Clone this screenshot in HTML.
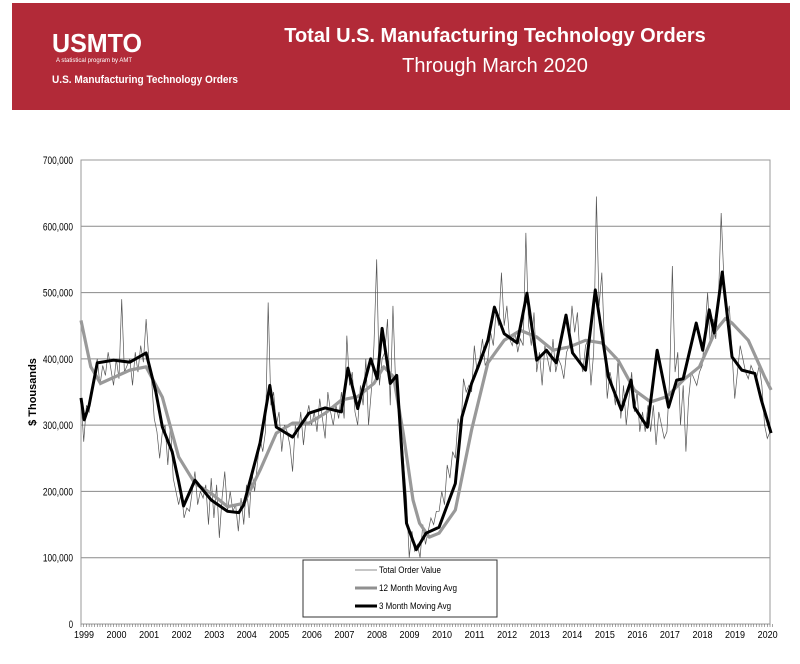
<!DOCTYPE html>
<html><head><meta charset="utf-8"><style>
body{margin:0;background:#fff;width:800px;height:664px;overflow:hidden;font-family:"Liberation Sans",sans-serif}
svg{position:absolute;left:0;top:0}
</style></head><body>
<svg id="c" width="800" height="664" viewBox="0 0 800 664">
<rect x="12" y="3" width="778" height="107" fill="#b22a38"/>
<text x="52" y="52" fill="#fff" font-size="26" font-weight="bold" textLength="90" lengthAdjust="spacingAndGlyphs">USMTO</text>
<text x="56" y="62" fill="#fff" font-size="6">A statistical program by AMT</text>
<text x="52" y="83" fill="#fff" font-size="11" font-weight="bold" textLength="186" lengthAdjust="spacingAndGlyphs">U.S. Manufacturing Technology Orders</text>
<text x="495" y="42" fill="#fff" font-size="20" font-weight="bold" text-anchor="middle">Total U.S. Manufacturing Technology Orders</text>
<text x="495" y="72" fill="#fff" font-size="20" text-anchor="middle">Through March 2020</text>
<text transform="translate(36,392) rotate(-90)" font-size="11" font-weight="bold" text-anchor="middle">$ Thousands</text>
<g id="grid"></g><g id="series"></g><g id="axes"></g>
<g>
<rect x="303" y="560" width="194" height="57" fill="#fff" stroke="#333" stroke-width="1"/>
<line x1="355" y1="570" x2="377" y2="570" stroke="#666" stroke-width="0.8"/>
<text x="379" y="573" font-size="9" textLength="62" lengthAdjust="spacingAndGlyphs">Total Order Value</text>
<line x1="355" y1="588" x2="377" y2="588" stroke="#909090" stroke-width="3"/>
<text x="379" y="591" font-size="9" textLength="78" lengthAdjust="spacingAndGlyphs">12 Month Moving Avg</text>
<line x1="355" y1="606" x2="377" y2="606" stroke="#000" stroke-width="3"/>
<text x="379" y="609" font-size="9" textLength="72" lengthAdjust="spacingAndGlyphs">3 Month Moving Avg</text>
</g>
</svg>
<script>
const yTicks=[0,100000,200000,300000,400000,500000,600000,700000];
const yTickLabels=["0","100,000","200,000","300,000","400,000","500,000","600,000","700,000"];
const xYears=[1999,2000,2001,2002,2003,2004,2005,2006,2007,2008,2009,2010,2011,2012,2013,2014,2015,2016,2017,2018,2019,2020];
const totalValues=[
340,275,330,320,350,380,400,360,390,375,410,385,
360,400,370,490,380,390,400,360,410,380,420,395,
460,400,370,310,290,250,290,300,240,300,220,200,
180,200,160,175,170,200,230,180,200,190,210,150,
220,160,210,130,190,230,170,200,170,180,140,190,
150,210,160,230,200,240,280,260,290,485,330,350,
300,320,260,300,290,270,230,300,280,320,270,310,
330,300,320,290,340,310,280,350,320,300,330,310,
350,310,435,360,380,320,300,360,330,400,300,350,
420,550,360,400,410,460,330,480,360,340,300,240,
190,100,140,110,120,100,150,120,140,160,150,170,
170,200,180,240,220,260,250,310,290,370,350,360,
350,420,380,400,430,390,400,440,420,470,450,530,
450,480,430,420,440,410,430,420,590,450,420,470,
380,410,360,420,400,380,430,380,400,390,370,410,
420,480,440,470,400,380,420,430,360,410,645,480,
530,420,340,380,360,330,400,310,360,300,340,380,
320,350,290,320,290,330,290,330,270,320,300,280,
290,370,540,380,410,300,360,260,340,380,370,360,
380,390,440,500,420,460,430,490,620,520,460,480,
410,340,380,420,400,380,370,390,380,370,390,360,
300,280,290];
const ma3Dates=[1999.0,1999.1,1999.25,1999.5,2000.0,2000.5,2001.0,2001.3,2001.5,2001.8,2002.0,2002.15,2002.5,2003.0,2003.5,2003.85,2004.0,2004.5,2004.8,2005.0,2005.5,2006.0,2006.5,2007.0,2007.2,2007.5,2007.9,2008.1,2008.25,2008.5,2008.7,2009.0,2009.3,2009.6,2010.0,2010.5,2010.7,2011.0,2011.2,2011.5,2011.7,2012.0,2012.4,2012.7,2013.0,2013.3,2013.6,2013.9,2014.1,2014.5,2014.8,2015.2,2015.6,2015.9,2016.0,2016.4,2016.7,2017.05,2017.3,2017.5,2017.9,2018.1,2018.3,2018.45,2018.7,2019.0,2019.3,2019.7,2019.9,2020.2];
const ma3Values=[341,308,330,394,398,395,409,350,297,260,215,178,217,187,170,168,180,273,360,297,282,318,326,320,386,325,400,370,446,363,375,152,112,137,146,212,312,363,388,428,478,438,424,499,398,413,394,466,409,383,504,373,323,368,327,297,413,327,368,370,454,413,474,439,531,403,383,378,338,288];
const ma12Dates=[1999.0,1999.3,1999.6,2000.5,2001.0,2001.5,2002.0,2002.5,2003.0,2003.5,2004.0,2004.5,2005.0,2005.5,2006.0,2006.5,2007.0,2007.5,2008.0,2008.3,2008.6,2008.9,2009.2,2009.4,2009.7,2010.0,2010.5,2011.0,2011.5,2012.0,2012.5,2013.0,2013.5,2014.0,2014.5,2015.0,2015.5,2016.0,2016.5,2017.0,2017.5,2018.0,2018.5,2018.8,2019.0,2019.5,2020.0,2020.2];
const ma12Values=[458,388,363,383,388,342,252,212,197,177,182,232,288,303,303,318,338,343,363,388,373,288,187,152,131,137,172,293,394,428,443,433,413,418,428,424,398,353,335,343,368,388,443,461,454,428,373,353];

const X0=81,X1=770,Y0=624,Y1=160,T0=1999,T1=2020+2/12;
const xs=t=>X0+(t-T0)/(T1-T0)*(X1-X0);
const ys=v=>Y0-v/700000*(Y0-Y1);
const NS="http://www.w3.org/2000/svg";
function mk(tag,attrs,parent){const e=document.createElementNS(NS,tag);for(const k in attrs)e.setAttribute(k,attrs[k]);parent.appendChild(e);return e;}
const grid=document.getElementById('grid'),axes=document.getElementById('axes'),ser=document.getElementById('series');
yTicks.forEach((v,i)=>{
  const l=mk('line',{x1:X0,x2:X1,y1:ys(v),y2:ys(v),stroke:i===0?'#777':'#8a8a8a','stroke-width':1},grid);
  
  
  const lab=yTickLabels[i];
  const w=lab.length*4.3;
  const t=mk('text',{x:73-w,y:ys(v)+4,'font-size':11,textLength:w,lengthAdjust:'spacingAndGlyphs'},axes);
  t.textContent=lab;
  
  
});
const fr=mk('rect',{x:X0,y:Y1,width:X1-X0,height:Y0-Y1,fill:'none',stroke:'#999','stroke-width':1},grid);


for(let m=0;m<=totalValues.length;m++){
  const x=xs(T0+m/12);
  const tk=mk('line',{x1:x,x2:x,y1:Y0,y2:Y0+3,stroke:'#666','stroke-width':0.6},axes);
  
  
}
xYears.forEach(yr=>{
  const t=mk('text',{x:xs(yr)-7,y:638,'font-size':10.5,textLength:20,lengthAdjust:'spacingAndGlyphs'},axes);
  t.textContent=String(yr);
  
  
});
const tp=mk('polyline',{points:totalValues.map((v,i)=>xs(T0+i/12)+','+ys(v*1000)).join(' '),fill:'none',stroke:'#555','stroke-width':0.7},ser);


const p12=mk('polyline',{points:ma12Values.map((v,i)=>xs(ma12Dates[i])+','+ys(v*1000)).join(' '),fill:'none',stroke:'#999','stroke-width':3.2,'stroke-linejoin':'round'},ser);


const p3=mk('polyline',{points:ma3Values.map((v,i)=>xs(ma3Dates[i])+','+ys(v*1000)).join(' '),fill:'none',stroke:'#000','stroke-width':3,'stroke-linejoin':'round'},ser);


</script>
</body></html>
